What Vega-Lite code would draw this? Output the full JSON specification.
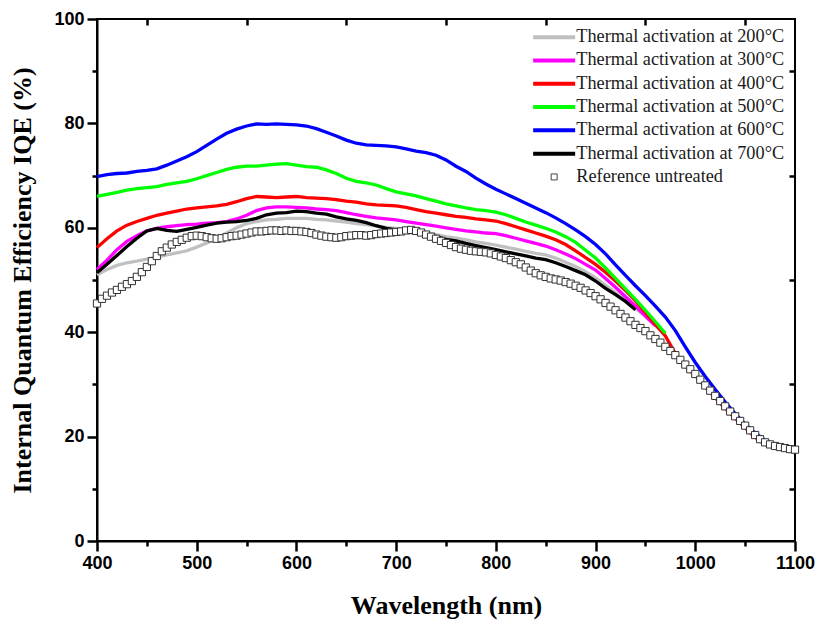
{
"$schema":"https://vega.github.io/schema/vega-lite/v6.json",
"width":698,"height":522,"autosize":"none",
"padding":{"left":97,"top":19,"right":24,"bottom":85},
"background":"white",
"config":{"view":{"stroke":"black","strokeWidth":2},
"axis":{"grid":false,"labelFont":"Liberation Sans","labelFontWeight":"bold","labelFontSize":18,"labelColor":"black","labelPadding":3,"labelFlush":false,"labelOverlap":false,"titleFont":"Liberation Serif","titleFontWeight":"bold","titleFontSize":26,"titleColor":"black"}},
"data":{"values":[
{"s":"200°C","w":400,"v":51.0},{"s":"200°C","w":410,"v":52.0},{"s":"200°C","w":420,"v":52.8},{"s":"200°C","w":430,"v":53.3},{"s":"200°C","w":440,"v":53.6},{"s":"200°C","w":450,"v":54.0},{"s":"200°C","w":460,"v":54.4},{"s":"200°C","w":470,"v":54.8},{"s":"200°C","w":480,"v":55.2},{"s":"200°C","w":490,"v":55.6},{"s":"200°C","w":500,"v":56.3},{"s":"200°C","w":510,"v":57.1},{"s":"200°C","w":520,"v":58.0},{"s":"200°C","w":530,"v":59.0},{"s":"200°C","w":540,"v":60.0},{"s":"200°C","w":550,"v":60.8},{"s":"200°C","w":560,"v":61.2},{"s":"200°C","w":570,"v":61.5},{"s":"200°C","w":580,"v":61.6},{"s":"200°C","w":590,"v":61.8},{"s":"200°C","w":600,"v":61.8},{"s":"200°C","w":610,"v":61.8},{"s":"200°C","w":620,"v":61.6},{"s":"200°C","w":630,"v":61.5},{"s":"200°C","w":640,"v":61.3},{"s":"200°C","w":650,"v":61.1},{"s":"200°C","w":660,"v":60.8},{"s":"200°C","w":670,"v":60.6},{"s":"200°C","w":680,"v":60.3},{"s":"200°C","w":690,"v":60.1},{"s":"200°C","w":700,"v":59.9},{"s":"200°C","w":710,"v":59.7},{"s":"200°C","w":720,"v":59.4},{"s":"200°C","w":730,"v":59.1},{"s":"200°C","w":740,"v":58.7},{"s":"200°C","w":750,"v":58.3},{"s":"200°C","w":760,"v":58.0},{"s":"200°C","w":770,"v":57.7},{"s":"200°C","w":780,"v":57.3},{"s":"200°C","w":790,"v":57.0},{"s":"200°C","w":800,"v":56.7},{"s":"200°C","w":810,"v":56.3},{"s":"200°C","w":820,"v":55.9},{"s":"200°C","w":830,"v":55.5},{"s":"200°C","w":840,"v":55.1},{"s":"200°C","w":850,"v":54.8},{"s":"200°C","w":860,"v":54.2},{"s":"200°C","w":870,"v":53.4},{"s":"200°C","w":880,"v":52.6},{"s":"200°C","w":890,"v":51.6},{"s":"200°C","w":900,"v":50.4},{"s":"200°C","w":910,"v":49.0},{"s":"200°C","w":920,"v":47.6},{"s":"200°C","w":930,"v":46.2},{"s":"200°C","w":940,"v":44.6},{"s":"200°C","w":950,"v":43.0},{"s":"200°C","w":960,"v":41.3},{"s":"200°C","w":970,"v":39.6},
{"s":"300°C","w":400,"v":52.0},{"s":"300°C","w":410,"v":53.8},{"s":"300°C","w":420,"v":55.8},{"s":"300°C","w":430,"v":57.4},{"s":"300°C","w":440,"v":58.5},{"s":"300°C","w":450,"v":59.4},{"s":"300°C","w":460,"v":59.9},{"s":"300°C","w":470,"v":60.2},{"s":"300°C","w":480,"v":60.4},{"s":"300°C","w":490,"v":60.6},{"s":"300°C","w":500,"v":60.7},{"s":"300°C","w":510,"v":60.9},{"s":"300°C","w":520,"v":61.0},{"s":"300°C","w":530,"v":61.2},{"s":"300°C","w":540,"v":61.7},{"s":"300°C","w":550,"v":62.4},{"s":"300°C","w":560,"v":63.3},{"s":"300°C","w":570,"v":63.8},{"s":"300°C","w":580,"v":64.0},{"s":"300°C","w":590,"v":64.0},{"s":"300°C","w":600,"v":63.9},{"s":"300°C","w":610,"v":63.8},{"s":"300°C","w":620,"v":63.6},{"s":"300°C","w":630,"v":63.5},{"s":"300°C","w":640,"v":63.3},{"s":"300°C","w":650,"v":62.9},{"s":"300°C","w":660,"v":62.5},{"s":"300°C","w":670,"v":62.2},{"s":"300°C","w":680,"v":61.9},{"s":"300°C","w":690,"v":61.7},{"s":"300°C","w":700,"v":61.5},{"s":"300°C","w":710,"v":61.2},{"s":"300°C","w":720,"v":60.9},{"s":"300°C","w":730,"v":60.6},{"s":"300°C","w":740,"v":60.3},{"s":"300°C","w":750,"v":60.0},{"s":"300°C","w":760,"v":59.7},{"s":"300°C","w":770,"v":59.4},{"s":"300°C","w":780,"v":59.2},{"s":"300°C","w":790,"v":59.0},{"s":"300°C","w":800,"v":58.9},{"s":"300°C","w":810,"v":58.5},{"s":"300°C","w":820,"v":58.0},{"s":"300°C","w":830,"v":57.5},{"s":"300°C","w":840,"v":57.0},{"s":"300°C","w":850,"v":56.5},{"s":"300°C","w":860,"v":55.8},{"s":"300°C","w":870,"v":55.0},{"s":"300°C","w":880,"v":54.1},{"s":"300°C","w":890,"v":53.0},{"s":"300°C","w":900,"v":51.9},{"s":"300°C","w":910,"v":50.3},{"s":"300°C","w":920,"v":48.6},{"s":"300°C","w":930,"v":46.8},{"s":"300°C","w":940,"v":45.0},{"s":"300°C","w":950,"v":43.1},{"s":"300°C","w":960,"v":41.2},
{"s":"400°C","w":400,"v":56.2},{"s":"400°C","w":410,"v":57.9},{"s":"400°C","w":420,"v":59.4},{"s":"400°C","w":430,"v":60.5},{"s":"400°C","w":440,"v":61.2},{"s":"400°C","w":450,"v":61.8},{"s":"400°C","w":460,"v":62.4},{"s":"400°C","w":470,"v":62.8},{"s":"400°C","w":480,"v":63.2},{"s":"400°C","w":490,"v":63.6},{"s":"400°C","w":500,"v":63.8},{"s":"400°C","w":510,"v":64.0},{"s":"400°C","w":520,"v":64.2},{"s":"400°C","w":530,"v":64.5},{"s":"400°C","w":540,"v":65.0},{"s":"400°C","w":550,"v":65.6},{"s":"400°C","w":560,"v":66.0},{"s":"400°C","w":570,"v":65.9},{"s":"400°C","w":580,"v":65.8},{"s":"400°C","w":590,"v":65.9},{"s":"400°C","w":600,"v":66.0},{"s":"400°C","w":610,"v":65.8},{"s":"400°C","w":620,"v":65.7},{"s":"400°C","w":630,"v":65.6},{"s":"400°C","w":640,"v":65.4},{"s":"400°C","w":650,"v":65.1},{"s":"400°C","w":660,"v":64.9},{"s":"400°C","w":670,"v":64.6},{"s":"400°C","w":680,"v":64.4},{"s":"400°C","w":690,"v":64.3},{"s":"400°C","w":700,"v":64.2},{"s":"400°C","w":710,"v":63.9},{"s":"400°C","w":720,"v":63.5},{"s":"400°C","w":730,"v":63.1},{"s":"400°C","w":740,"v":62.8},{"s":"400°C","w":750,"v":62.5},{"s":"400°C","w":760,"v":62.2},{"s":"400°C","w":770,"v":62.0},{"s":"400°C","w":780,"v":61.7},{"s":"400°C","w":790,"v":61.5},{"s":"400°C","w":800,"v":61.3},{"s":"400°C","w":810,"v":60.8},{"s":"400°C","w":820,"v":60.2},{"s":"400°C","w":830,"v":59.6},{"s":"400°C","w":840,"v":59.0},{"s":"400°C","w":850,"v":58.4},{"s":"400°C","w":860,"v":57.7},{"s":"400°C","w":870,"v":56.8},{"s":"400°C","w":880,"v":55.6},{"s":"400°C","w":890,"v":54.3},{"s":"400°C","w":900,"v":53.0},{"s":"400°C","w":910,"v":51.5},{"s":"400°C","w":920,"v":49.8},{"s":"400°C","w":930,"v":48.0},{"s":"400°C","w":940,"v":46.0},{"s":"400°C","w":950,"v":43.8},{"s":"400°C","w":960,"v":41.5},{"s":"400°C","w":970,"v":39.3},{"s":"400°C","w":980,"v":35.9},{"s":"400°C","w":990,"v":33.5},{"s":"400°C","w":1000,"v":31.7},{"s":"400°C","w":1010,"v":29.5},{"s":"400°C","w":1020,"v":27.4},{"s":"400°C","w":1030,"v":25.4},{"s":"400°C","w":1040,"v":23.5},{"s":"400°C","w":1050,"v":21.7},{"s":"400°C","w":1060,"v":19.9},{"s":"400°C","w":1070,"v":18.5},{"s":"400°C","w":1080,"v":17.8},{"s":"400°C","w":1090,"v":17.4},{"s":"400°C","w":1100,"v":17.1},
{"s":"500°C","w":400,"v":66.0},{"s":"500°C","w":410,"v":66.4},{"s":"500°C","w":420,"v":66.8},{"s":"500°C","w":430,"v":67.2},{"s":"500°C","w":440,"v":67.5},{"s":"500°C","w":450,"v":67.7},{"s":"500°C","w":460,"v":67.9},{"s":"500°C","w":470,"v":68.3},{"s":"500°C","w":480,"v":68.6},{"s":"500°C","w":490,"v":68.9},{"s":"500°C","w":500,"v":69.4},{"s":"500°C","w":510,"v":70.0},{"s":"500°C","w":520,"v":70.6},{"s":"500°C","w":530,"v":71.2},{"s":"500°C","w":540,"v":71.6},{"s":"500°C","w":550,"v":71.8},{"s":"500°C","w":560,"v":71.8},{"s":"500°C","w":570,"v":72.0},{"s":"500°C","w":580,"v":72.2},{"s":"500°C","w":590,"v":72.3},{"s":"500°C","w":600,"v":72.0},{"s":"500°C","w":610,"v":71.7},{"s":"500°C","w":620,"v":71.6},{"s":"500°C","w":630,"v":71.1},{"s":"500°C","w":640,"v":70.4},{"s":"500°C","w":650,"v":69.5},{"s":"500°C","w":660,"v":68.9},{"s":"500°C","w":670,"v":68.6},{"s":"500°C","w":680,"v":68.2},{"s":"500°C","w":690,"v":67.5},{"s":"500°C","w":700,"v":66.9},{"s":"500°C","w":710,"v":66.5},{"s":"500°C","w":720,"v":66.1},{"s":"500°C","w":730,"v":65.6},{"s":"500°C","w":740,"v":65.1},{"s":"500°C","w":750,"v":64.6},{"s":"500°C","w":760,"v":64.2},{"s":"500°C","w":770,"v":63.8},{"s":"500°C","w":780,"v":63.5},{"s":"500°C","w":790,"v":63.3},{"s":"500°C","w":800,"v":63.0},{"s":"500°C","w":810,"v":62.5},{"s":"500°C","w":820,"v":61.8},{"s":"500°C","w":830,"v":61.1},{"s":"500°C","w":840,"v":60.5},{"s":"500°C","w":850,"v":59.9},{"s":"500°C","w":860,"v":59.2},{"s":"500°C","w":870,"v":58.3},{"s":"500°C","w":880,"v":57.2},{"s":"500°C","w":890,"v":55.7},{"s":"500°C","w":900,"v":54.2},{"s":"500°C","w":910,"v":52.3},{"s":"500°C","w":920,"v":50.3},{"s":"500°C","w":930,"v":48.3},{"s":"500°C","w":940,"v":46.3},{"s":"500°C","w":950,"v":44.2},{"s":"500°C","w":960,"v":42.0},{"s":"500°C","w":970,"v":39.8},
{"s":"600°C","w":400,"v":69.8},{"s":"600°C","w":410,"v":70.2},{"s":"600°C","w":420,"v":70.4},{"s":"600°C","w":430,"v":70.5},{"s":"600°C","w":440,"v":70.8},{"s":"600°C","w":450,"v":71.0},{"s":"600°C","w":460,"v":71.3},{"s":"600°C","w":470,"v":72.0},{"s":"600°C","w":480,"v":72.8},{"s":"600°C","w":490,"v":73.6},{"s":"600°C","w":500,"v":74.6},{"s":"600°C","w":510,"v":75.8},{"s":"600°C","w":520,"v":77.0},{"s":"600°C","w":530,"v":78.1},{"s":"600°C","w":540,"v":78.9},{"s":"600°C","w":550,"v":79.5},{"s":"600°C","w":560,"v":79.9},{"s":"600°C","w":570,"v":79.8},{"s":"600°C","w":580,"v":79.9},{"s":"600°C","w":590,"v":79.8},{"s":"600°C","w":600,"v":79.7},{"s":"600°C","w":610,"v":79.5},{"s":"600°C","w":620,"v":79.0},{"s":"600°C","w":630,"v":78.3},{"s":"600°C","w":640,"v":77.6},{"s":"600°C","w":650,"v":76.8},{"s":"600°C","w":660,"v":76.2},{"s":"600°C","w":670,"v":75.9},{"s":"600°C","w":680,"v":75.8},{"s":"600°C","w":690,"v":75.7},{"s":"600°C","w":700,"v":75.5},{"s":"600°C","w":710,"v":75.1},{"s":"600°C","w":720,"v":74.7},{"s":"600°C","w":730,"v":74.4},{"s":"600°C","w":740,"v":73.9},{"s":"600°C","w":750,"v":73.0},{"s":"600°C","w":760,"v":71.8},{"s":"600°C","w":770,"v":70.8},{"s":"600°C","w":780,"v":69.5},{"s":"600°C","w":790,"v":68.4},{"s":"600°C","w":800,"v":67.4},{"s":"600°C","w":810,"v":66.5},{"s":"600°C","w":820,"v":65.6},{"s":"600°C","w":830,"v":64.7},{"s":"600°C","w":840,"v":63.8},{"s":"600°C","w":850,"v":62.9},{"s":"600°C","w":860,"v":61.9},{"s":"600°C","w":870,"v":60.8},{"s":"600°C","w":880,"v":59.6},{"s":"600°C","w":890,"v":58.3},{"s":"600°C","w":900,"v":56.8},{"s":"600°C","w":910,"v":55.0},{"s":"600°C","w":920,"v":52.9},{"s":"600°C","w":930,"v":50.9},{"s":"600°C","w":940,"v":48.9},{"s":"600°C","w":950,"v":47.0},{"s":"600°C","w":960,"v":45.0},{"s":"600°C","w":970,"v":42.9},{"s":"600°C","w":980,"v":40.3},{"s":"600°C","w":990,"v":37.2},{"s":"600°C","w":1000,"v":34.2},{"s":"600°C","w":1010,"v":31.5},{"s":"600°C","w":1020,"v":29.0},{"s":"600°C","w":1030,"v":26.6},{"s":"600°C","w":1040,"v":24.4},{"s":"600°C","w":1050,"v":22.4},{"s":"600°C","w":1060,"v":20.7},{"s":"600°C","w":1070,"v":19.3},{"s":"600°C","w":1080,"v":18.4},{"s":"600°C","w":1090,"v":17.8},{"s":"600°C","w":1100,"v":17.4},
{"s":"700°C","w":400,"v":51.4},{"s":"700°C","w":410,"v":53.0},{"s":"700°C","w":420,"v":54.7},{"s":"700°C","w":430,"v":56.4},{"s":"700°C","w":440,"v":58.0},{"s":"700°C","w":450,"v":59.4},{"s":"700°C","w":460,"v":59.9},{"s":"700°C","w":470,"v":59.5},{"s":"700°C","w":480,"v":59.3},{"s":"700°C","w":490,"v":59.7},{"s":"700°C","w":500,"v":60.1},{"s":"700°C","w":510,"v":60.5},{"s":"700°C","w":520,"v":60.9},{"s":"700°C","w":530,"v":61.1},{"s":"700°C","w":540,"v":61.2},{"s":"700°C","w":550,"v":61.4},{"s":"700°C","w":560,"v":61.8},{"s":"700°C","w":570,"v":62.5},{"s":"700°C","w":580,"v":62.8},{"s":"700°C","w":590,"v":62.9},{"s":"700°C","w":600,"v":63.2},{"s":"700°C","w":610,"v":63.1},{"s":"700°C","w":620,"v":62.8},{"s":"700°C","w":630,"v":62.6},{"s":"700°C","w":640,"v":62.1},{"s":"700°C","w":650,"v":61.7},{"s":"700°C","w":660,"v":61.4},{"s":"700°C","w":670,"v":61.0},{"s":"700°C","w":680,"v":60.4},{"s":"700°C","w":690,"v":59.9},{"s":"700°C","w":700,"v":59.6},{"s":"700°C","w":710,"v":59.2},{"s":"700°C","w":720,"v":59.0},{"s":"700°C","w":730,"v":58.7},{"s":"700°C","w":740,"v":58.3},{"s":"700°C","w":750,"v":57.8},{"s":"700°C","w":760,"v":57.5},{"s":"700°C","w":770,"v":57.0},{"s":"700°C","w":780,"v":56.6},{"s":"700°C","w":790,"v":56.2},{"s":"700°C","w":800,"v":55.8},{"s":"700°C","w":810,"v":55.4},{"s":"700°C","w":820,"v":55.0},{"s":"700°C","w":830,"v":54.6},{"s":"700°C","w":840,"v":54.2},{"s":"700°C","w":850,"v":53.9},{"s":"700°C","w":860,"v":53.3},{"s":"700°C","w":870,"v":52.6},{"s":"700°C","w":880,"v":51.8},{"s":"700°C","w":890,"v":51.0},{"s":"700°C","w":900,"v":49.8},{"s":"700°C","w":910,"v":48.4},{"s":"700°C","w":920,"v":47.2},{"s":"700°C","w":930,"v":45.9},{"s":"700°C","w":940,"v":44.3},
{"s":"Reference untreated","w":400,"v":45.5},{"s":"Reference untreated","w":405,"v":46.4},{"s":"Reference untreated","w":410,"v":47.0},{"s":"Reference untreated","w":415,"v":47.6},{"s":"Reference untreated","w":420,"v":48.1},{"s":"Reference untreated","w":425,"v":48.7},{"s":"Reference untreated","w":430,"v":49.2},{"s":"Reference untreated","w":435,"v":49.8},{"s":"Reference untreated","w":440,"v":50.6},{"s":"Reference untreated","w":445,"v":51.5},{"s":"Reference untreated","w":450,"v":52.5},{"s":"Reference untreated","w":455,"v":53.6},{"s":"Reference untreated","w":460,"v":54.6},{"s":"Reference untreated","w":465,"v":55.5},{"s":"Reference untreated","w":470,"v":56.2},{"s":"Reference untreated","w":475,"v":56.8},{"s":"Reference untreated","w":480,"v":57.3},{"s":"Reference untreated","w":485,"v":57.7},{"s":"Reference untreated","w":490,"v":58.1},{"s":"Reference untreated","w":495,"v":58.4},{"s":"Reference untreated","w":500,"v":58.5},{"s":"Reference untreated","w":505,"v":58.4},{"s":"Reference untreated","w":510,"v":58.2},{"s":"Reference untreated","w":515,"v":58.0},{"s":"Reference untreated","w":520,"v":57.9},{"s":"Reference untreated","w":525,"v":58.0},{"s":"Reference untreated","w":530,"v":58.2},{"s":"Reference untreated","w":535,"v":58.4},{"s":"Reference untreated","w":540,"v":58.5},{"s":"Reference untreated","w":545,"v":58.7},{"s":"Reference untreated","w":550,"v":58.9},{"s":"Reference untreated","w":555,"v":59.1},{"s":"Reference untreated","w":560,"v":59.3},{"s":"Reference untreated","w":565,"v":59.3},{"s":"Reference untreated","w":570,"v":59.4},{"s":"Reference untreated","w":575,"v":59.5},{"s":"Reference untreated","w":580,"v":59.5},{"s":"Reference untreated","w":585,"v":59.4},{"s":"Reference untreated","w":590,"v":59.5},{"s":"Reference untreated","w":595,"v":59.4},{"s":"Reference untreated","w":600,"v":59.4},{"s":"Reference untreated","w":605,"v":59.3},{"s":"Reference untreated","w":610,"v":59.2},{"s":"Reference untreated","w":615,"v":59.0},{"s":"Reference untreated","w":620,"v":58.7},{"s":"Reference untreated","w":625,"v":58.5},{"s":"Reference untreated","w":630,"v":58.3},{"s":"Reference untreated","w":635,"v":58.2},{"s":"Reference untreated","w":640,"v":58.1},{"s":"Reference untreated","w":645,"v":58.2},{"s":"Reference untreated","w":650,"v":58.4},{"s":"Reference untreated","w":655,"v":58.5},{"s":"Reference untreated","w":660,"v":58.6},{"s":"Reference untreated","w":665,"v":58.6},{"s":"Reference untreated","w":670,"v":58.5},{"s":"Reference untreated","w":675,"v":58.6},{"s":"Reference untreated","w":680,"v":58.8},{"s":"Reference untreated","w":685,"v":58.9},{"s":"Reference untreated","w":690,"v":59.0},{"s":"Reference untreated","w":695,"v":59.1},{"s":"Reference untreated","w":700,"v":59.2},{"s":"Reference untreated","w":705,"v":59.3},{"s":"Reference untreated","w":710,"v":59.5},{"s":"Reference untreated","w":715,"v":59.6},{"s":"Reference untreated","w":720,"v":59.4},{"s":"Reference untreated","w":725,"v":59.1},{"s":"Reference untreated","w":730,"v":58.7},{"s":"Reference untreated","w":735,"v":58.3},{"s":"Reference untreated","w":740,"v":57.9},{"s":"Reference untreated","w":745,"v":57.5},{"s":"Reference untreated","w":750,"v":57.1},{"s":"Reference untreated","w":755,"v":56.7},{"s":"Reference untreated","w":760,"v":56.3},{"s":"Reference untreated","w":765,"v":56.0},{"s":"Reference untreated","w":770,"v":55.8},{"s":"Reference untreated","w":775,"v":55.6},{"s":"Reference untreated","w":780,"v":55.5},{"s":"Reference untreated","w":785,"v":55.4},{"s":"Reference untreated","w":790,"v":55.3},{"s":"Reference untreated","w":795,"v":55.1},{"s":"Reference untreated","w":800,"v":54.8},{"s":"Reference untreated","w":805,"v":54.5},{"s":"Reference untreated","w":810,"v":54.2},{"s":"Reference untreated","w":815,"v":53.8},{"s":"Reference untreated","w":820,"v":53.4},{"s":"Reference untreated","w":825,"v":53.0},{"s":"Reference untreated","w":830,"v":52.4},{"s":"Reference untreated","w":835,"v":51.8},{"s":"Reference untreated","w":840,"v":51.3},{"s":"Reference untreated","w":845,"v":50.9},{"s":"Reference untreated","w":850,"v":50.6},{"s":"Reference untreated","w":855,"v":50.3},{"s":"Reference untreated","w":860,"v":50.1},{"s":"Reference untreated","w":865,"v":49.9},{"s":"Reference untreated","w":870,"v":49.6},{"s":"Reference untreated","w":875,"v":49.3},{"s":"Reference untreated","w":880,"v":48.9},{"s":"Reference untreated","w":885,"v":48.5},{"s":"Reference untreated","w":890,"v":48.0},{"s":"Reference untreated","w":895,"v":47.5},{"s":"Reference untreated","w":900,"v":46.9},{"s":"Reference untreated","w":905,"v":46.3},{"s":"Reference untreated","w":910,"v":45.6},{"s":"Reference untreated","w":915,"v":44.9},{"s":"Reference untreated","w":920,"v":44.2},{"s":"Reference untreated","w":925,"v":43.5},{"s":"Reference untreated","w":930,"v":42.8},{"s":"Reference untreated","w":935,"v":42.1},{"s":"Reference untreated","w":940,"v":41.4},{"s":"Reference untreated","w":945,"v":40.8},{"s":"Reference untreated","w":950,"v":40.2},{"s":"Reference untreated","w":955,"v":39.4},{"s":"Reference untreated","w":960,"v":38.7},{"s":"Reference untreated","w":965,"v":38.0},{"s":"Reference untreated","w":970,"v":37.2},{"s":"Reference untreated","w":975,"v":36.4},{"s":"Reference untreated","w":980,"v":35.6},{"s":"Reference untreated","w":985,"v":34.7},{"s":"Reference untreated","w":990,"v":33.8},{"s":"Reference untreated","w":995,"v":32.9},{"s":"Reference untreated","w":1000,"v":32.0},{"s":"Reference untreated","w":1005,"v":30.9},{"s":"Reference untreated","w":1010,"v":29.8},{"s":"Reference untreated","w":1015,"v":28.8},{"s":"Reference untreated","w":1020,"v":27.8},{"s":"Reference untreated","w":1025,"v":26.8},{"s":"Reference untreated","w":1030,"v":25.8},{"s":"Reference untreated","w":1035,"v":24.8},{"s":"Reference untreated","w":1040,"v":23.9},{"s":"Reference untreated","w":1045,"v":23.0},{"s":"Reference untreated","w":1050,"v":22.1},{"s":"Reference untreated","w":1055,"v":21.2},{"s":"Reference untreated","w":1060,"v":20.3},{"s":"Reference untreated","w":1065,"v":19.5},{"s":"Reference untreated","w":1070,"v":18.9},{"s":"Reference untreated","w":1075,"v":18.5},{"s":"Reference untreated","w":1080,"v":18.2},{"s":"Reference untreated","w":1085,"v":18.0},{"s":"Reference untreated","w":1090,"v":17.8},{"s":"Reference untreated","w":1095,"v":17.6},{"s":"Reference untreated","w":1100,"v":17.5}
]},
"layer":[
{"transform":[{"filter":"datum.s != 'Reference untreated'"}],
"mark":{"type":"line","strokeWidth":3.3},
"encoding":{
"x":{"field":"w","type":"quantitative","scale":{"domain":[400,1100],"nice":false,"zero":false},
"axis":{"orient":"bottom","values":[400,500,600,700,800,900,1000,1100],"format":"d","tickSize":10,"tickColor":"#000000","tickWidth":2.5,"domainColor":"#000000","domainWidth":2,"title":"Wavelength (nm)","titlePadding":20}},
"y":{"field":"v","type":"quantitative","scale":{"domain":[0,100],"nice":false,"zero":false},
"axis":{"orient":"left","values":[0,20,40,60,80,100],"format":"d","tickSize":10,"tickColor":"#000000","tickWidth":2.5,"domainColor":"#000000","domainWidth":2,"title":"Internal Quantum Efficiency IQE (%)","titlePadding":18}},
"color":{"field":"s","type":"nominal",
"scale":{"domain":["200°C","300°C","400°C","500°C","600°C","700°C","Reference untreated"],"range":["#c0c0c0","#ff00ff","#ff0000","#00ff00","#0000ff","#000000","#444444"]},
"legend":{"title":null,"orient":"none","legendX":448,"legendY":9,"padding":0,"labelFont":"Liberation Serif","labelFontSize":18.3,"labelColor":"#1a1a1a","labelLimit":0,"labelOffset":13,"rowPadding":4.3,"symbolSize":64,"symbolStrokeWidth":3,
"labelExpr":"datum.label == 'Reference untreated' ? datum.label : 'Thermal activation at ' + datum.label",
"encode":{"symbols":{"update":{
"shape":{"signal":"datum.value === 'Reference untreated' ? 'square' : 'M-5.25,0H5.25'"},
"size":{"signal":"datum.value === 'Reference untreated' ? 36 : 64"},
"strokeWidth":{"signal":"datum.value === 'Reference untreated' ? 1 : 4"},
"fill":{"value":"white"},
"opacity":{"value":1}}}}}}
}},
{"transform":[{"filter":"datum.s == 'Reference untreated'"}],
"mark":{"type":"point","shape":"square","size":52,"filled":true,"fill":"white","stroke":"#333333","strokeWidth":1,"opacity":1},
"encoding":{
"x":{"field":"w","type":"quantitative","axis":{"orient":"bottom","values":[450,550,650,750,850,950,1050],"labels":false,"domain":false,"tickSize":5,"tickColor":"#000000","tickWidth":2.5,"title":null}},
"y":{"field":"v","type":"quantitative","axis":{"orient":"left","values":[10,30,50,70,90],"labels":false,"domain":false,"tickSize":5,"tickColor":"#000000","tickWidth":2.5,"title":null}}
}},
{"transform":[{"filter":"datum.s == 'Reference untreated'"}],
"mark":{"type":"point","shape":"square","size":52,"opacity":0},
"encoding":{
"x":{"field":"w","type":"quantitative","axis":{"orient":"top","values":[450,550,650,750,850,950,1050],"labels":false,"domain":false,"tickSize":6,"offset":-6,"tickColor":"#000000","tickWidth":2.5,"title":null}},
"y":{"field":"v","type":"quantitative","axis":{"orient":"right","values":[10,30,50,70,90],"labels":false,"domain":false,"tickSize":6,"offset":-6,"tickColor":"#000000","tickWidth":2.5,"title":null}}
}}
],
"resolve":{"axis":{"x":"independent","y":"independent"}}
}
